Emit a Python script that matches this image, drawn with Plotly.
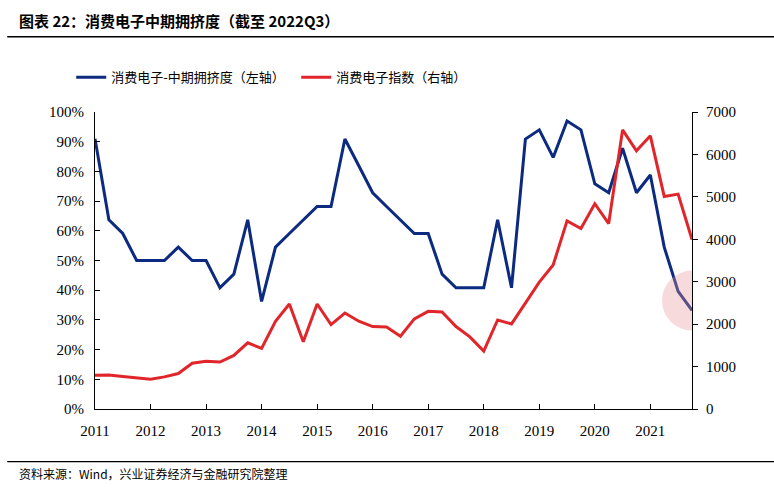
import plotly.graph_objects as go

years = list(range(2011, 2022))
quarters = [f"{y}Q{q}" for y in years for q in range(1, 5)]

crowding = [91, 63.7, 59.1, 50, 50, 50, 54.5, 50, 50, 40.8, 45.4, 63.7, 36.2, 54.5,
            59.1, 63.7, 68.2, 68.2, 90.9, 81.9, 72.8, 68.2, 63.7, 59.1, 59.1, 45.4,
            40.8, 40.8, 40.8, 63.7, 40.8, 90.9, 94, 84.7, 97, 94, 75.8, 72.8, 87.8,
            72.8, 78.8, 54.5, 39.6, 33.2]
index_vals = [796, 804, 765, 734, 702, 757, 835, 1077, 1124, 1108, 1264, 1561, 1428,
              2068, 2474, 1584, 2474, 1990, 2263, 2068, 1943, 1935, 1717, 2123, 2302,
              2287, 1943, 1701, 1366, 2099, 2006, 2497, 2989, 3395, 4433, 4253, 4838,
              4370, 6579, 6087, 6438, 5010, 5065, 3996]

left_ticks = [0, 10, 20, 30, 40, 50, 60, 70, 80, 90, 100]
right_ticks = [0, 1000, 2000, 3000, 4000, 5000, 6000, 7000]

name_left = "消费电子-中期拥挤度（左轴）"
name_right = "消费电子指数（右轴）"
title = "图表 22：消费电子中期拥挤度（截至 2022Q3）"
source = "资料来源：Wind，兴业证券经济与金融研究院整理"

serif = "Liberation Serif, Noto Sans CJK SC"
cjk = "Noto Sans CJK SC"
BLUE = "#0B2A80"
RED = "#E0262A"

fig = go.Figure()
fig.add_trace(go.Scatter(x=quarters, y=crowding, name=name_left, mode="lines",
                         line=dict(color=BLUE, width=3), yaxis="y"))
fig.add_trace(go.Scatter(x=quarters, y=index_vals, name=name_right, mode="lines",
                         line=dict(color=RED, width=3), yaxis="y2"))

fig.update_layout(
    width=774, height=498,
    margin=dict(l=95, r=82, t=109, b=89),
    paper_bgcolor="white", plot_bgcolor="white",
    showlegend=True,
    legend=dict(orientation="h", x=0.092, y=0.875, xref="container", yref="container",
                yanchor="top", xanchor="left",
                font=dict(family=cjk, size=13, color="#000"),
                traceorder="normal", itemwidth=30, entrywidthmode="pixels",
                entrywidth=180),
    xaxis=dict(type="category", range=[0, len(quarters) - 1],
               tickvals=[f"{y}Q1" for y in years], ticktext=[str(y) for y in years],
               ticks="inside", ticklen=5, tickcolor="#000", showline=True,
               linecolor="#000", linewidth=1.2, showgrid=False, zeroline=False,
               ticklabelstandoff=8,
               tickfont=dict(family=serif, size=15, color="#000")),
    yaxis=dict(range=[0, 100], tickvals=left_ticks,
               ticktext=[f"{v}%" for v in left_ticks],
               ticks="inside", ticklen=5, tickcolor="#000", showline=True,
               linecolor="#000", linewidth=1.2, showgrid=False, zeroline=False,
               ticklabelstandoff=7,
               tickfont=dict(family=serif, size=15, color="#000")),
    yaxis2=dict(range=[0, 7000], tickvals=right_ticks, overlaying="y", side="right",
                ticks="outside", ticklen=5, tickcolor="#000", showline=True,
                linecolor="#000", linewidth=1.2, showgrid=False, zeroline=False,
                ticklabelstandoff=5,
                tickfont=dict(family=serif, size=15, color="#000")),
    shapes=[
        dict(type="circle", xref="x", yref="y", xsizemode="pixel", ysizemode="pixel",
             xanchor=len(quarters) - 1, yanchor=36.5, x0=-30, x1=30, y0=-30, y1=30,
             fillcolor="rgba(232,150,155,0.35)", line=dict(width=0), layer="above"),
        dict(type="line", xref="paper", yref="paper", x0=-0.147, x1=1.15,
             y0=1.253, y1=1.253, line=dict(color="#000", width=1.5)),
        dict(type="line", xref="paper", yref="paper", x0=-0.147, x1=1.15,
             y0=-0.177, y1=-0.177, line=dict(color="#000", width=1.2)),
    ],
    annotations=[
        dict(text=f"<b>{title}</b>", xref="paper", yref="paper", x=-0.131, y=1.307,
             xanchor="left", yanchor="middle", showarrow=False,
             font=dict(family=cjk, size=15, color="#000")),
        dict(text=source, xref="paper", yref="paper", x=-0.131, y=-0.217,
             xanchor="left", yanchor="middle", showarrow=False,
             font=dict(family=cjk, size=12, color="#000")),
    ],
)

fig.write_html("out.html",
               config={"displayModeBar": False},
               post_script="document.body.style.margin='0';"
                           "document.documentElement.style.overflow='hidden';"
                           "document.body.style.overflow='hidden';")
